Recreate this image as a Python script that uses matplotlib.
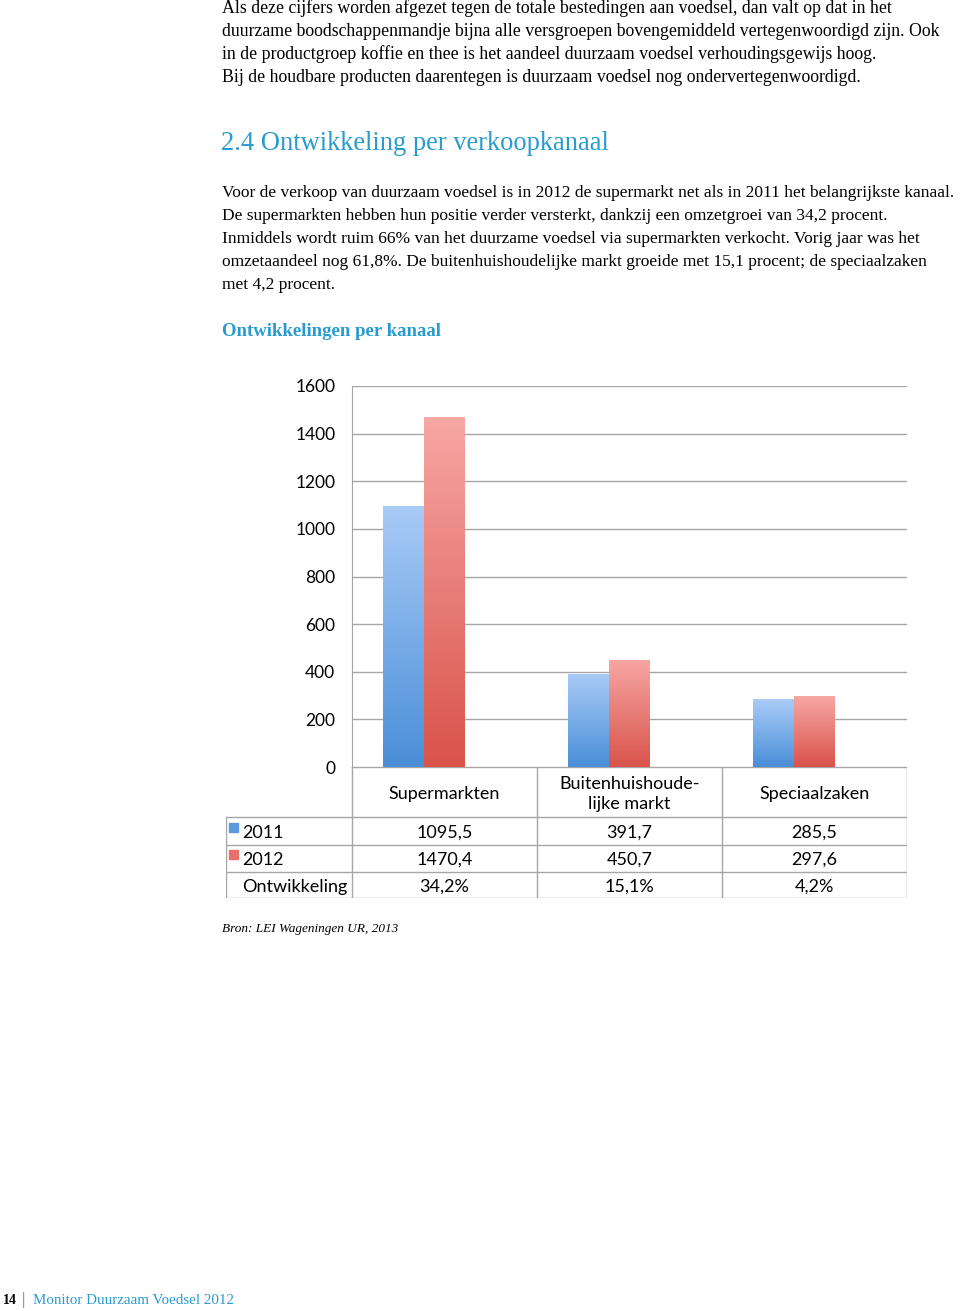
import numpy as np
import matplotlib
matplotlib.use("Agg")
import matplotlib.pyplot as plt
from matplotlib.colors import LinearSegmentedColormap
from matplotlib.patches import Rectangle

# data
categories = ["Supermarkten", "Buitenhuishoude-\nlijke markt", "Speciaalzaken"]
sales_2011 = [1095.5, 391.7, 285.5]
sales_2012 = [1470.4, 450.7, 297.6]
growth_pct = [34.2, 15.1, 4.2]
yticks = [0, 200, 400, 600, 800, 1000, 1200, 1400, 1600]
row_labels = ["2011", "2012", "Ontwikkeling"]

W, H = 960, 1311
fig = plt.figure(figsize=(W / 100, H / 100), dpi=100)

BLUE_TXT = "#2a9bd0"
BODY = "Liberation Serif"
CHART = "Lato"


def px(x, y):
    return x / W, 1 - y / H


def nl(v, d=1):
    return f"{v:.{d}f}".replace(".", ",")


# text above the chart
intro = [
    "Als deze cijfers worden afgezet tegen de totale bestedingen aan voedsel, dan valt op dat in het",
    "duurzame boodschappenmandje bijna alle versgroepen bovengemiddeld vertegenwoordigd zijn. Ook",
    "in de productgroep koffie en thee is het aandeel duurzaam voedsel verhoudingsgewijs hoog.",
    "Bij de houdbare producten daarentegen is duurzaam voedsel nog ondervertegenwoordigd.",
]
for i, line in enumerate(intro):
    fig.text(*px(222, 8 + 23 * i), line, family=BODY, fontsize=12.8, va="center")

fig.text(*px(221, 143), "2.4 Ontwikkeling per verkoopkanaal", family=BODY,
         fontsize=19.1, color=BLUE_TXT, va="center")

para = [
    "Voor de verkoop van duurzaam voedsel is in 2012 de supermarkt net als in 2011 het belangrijkste kanaal.",
    "De supermarkten hebben hun positie verder versterkt, dankzij een omzetgroei van 34,2 procent.",
    "Inmiddels wordt ruim 66% van het duurzame voedsel via supermarkten verkocht. Vorig jaar was het",
    "omzetaandeel nog 61,8%. De buitenhuishoudelijke markt groeide met 15,1 procent; de speciaalzaken",
    "met 4,2 procent.",
]
for i, line in enumerate(para):
    fig.text(*px(222, 193 + 23 * i), line, family=BODY, fontsize=12.5, va="center")

fig.text(*px(222, 331), "Ontwikkelingen per kanaal", family=BODY, fontsize=13.5,
         fontweight="bold", color=BLUE_TXT, va="center")

# chart
ax = fig.add_axes([352 / W, 1 - 767 / H, 555 / W, 381 / H])
bw = 41 / 185
x = np.arange(len(categories)) + 0.5

blue_cmap = LinearSegmentedColormap.from_list("b", ["#4a8ed8", "#a9cbf7"])
red_cmap = LinearSegmentedColormap.from_list("r", ["#d9534b", "#f7a7a4"])
grad = np.linspace(0, 1, 256).reshape(-1, 1)

for vals, off, cmap in [(sales_2011, -bw, blue_cmap), (sales_2012, 0, red_cmap)]:
    bars = ax.bar(x + off, vals, width=bw, color="none", linewidth=0, zorder=3)
    for b in bars:
        im = ax.imshow(grad, extent=[b.get_x(), b.get_x() + b.get_width(), 0, b.get_height()],
                       origin="lower", cmap=cmap, aspect="auto", zorder=3)
        im.set_clip_path(b)
# growth series is plotted on the same scale, so it stays a hairline at the base
ax.bar(x + bw, [g / 100 for g in growth_pct], width=bw, color="#9bbb59", zorder=3)

ax.set_xlim(0, 3)
ax.set_ylim(0, 1600)
ax.set_yticks(yticks)
ax.set_yticklabels([str(t) for t in yticks], family=CHART, fontsize=12.5)
ax.set_xticks([])
ax.tick_params(axis="y", length=0, pad=12)
ax.yaxis.grid(True, color="#a6a6a6", linewidth=1)
ax.set_axisbelow(True)
for s in ["top", "right", "bottom"]:
    ax.spines[s].set_visible(False)
ax.spines["left"].set_color("#a6a6a6")

# data table below the chart
tab = fig.add_axes([226 / W, 1 - 898 / H, 681 / W, 131 / H])
tab.set_xlim(-126 / 185, 3)
tab.set_ylim(131, 0)
tab.axis("off")
grey = "#a6a6a6"
tab.plot([0, 3], [0, 0], color=grey, lw=1)
for yy in [50, 78, 105, 131]:
    tab.plot([-126 / 185, 3], [yy, yy], color=grey, lw=1)
tab.plot([-126 / 185] * 2, [50, 131], color=grey, lw=1)
for xx in [0, 1, 2, 3]:
    tab.plot([xx, xx], [0, 131], color=grey, lw=1)

for i, c in enumerate(categories):
    tab.text(i + 0.5, 27, c, ha="center", va="center", family=CHART, fontsize=13,
             linespacing=1.3)

row_vals = [[nl(v) for v in sales_2011], [nl(v) for v in sales_2012],
            [nl(v) + "%" for v in growth_pct]]
row_y = [66, 93, 120]
for label, vals, yy in zip(row_labels, row_vals, row_y):
    tab.text(-110 / 185, yy, label, ha="left", va="center", family=CHART, fontsize=13)
    for i, v in enumerate(vals):
        tab.text(i + 0.5, yy, v, ha="center", va="center", family=CHART, fontsize=13)

for yy, col in [(row_y[0], "#5b9be0"), (row_y[1], "#e8706a")]:
    tab.add_patch(Rectangle((-123 / 185, yy - 10), 9 / 185, 9, color=col, clip_on=False))

fig.text(*px(222, 929), "Bron: LEI Wageningen UR, 2013", family=BODY, fontsize=9.5,
         style="italic", va="center")

# footer
fig.text(*px(3, 1301), "14", family=BODY, fontsize=10, fontweight="bold", va="center")
fig.text(*px(22, 1300), "|", family=BODY, fontsize=12, color="#777777", va="center")
fig.text(*px(33, 1301), "Monitor Duurzaam Voedsel 2012", family=BODY, fontsize=10.8,
         color=BLUE_TXT, va="center")

fig.savefig("out.png", dpi=100)
